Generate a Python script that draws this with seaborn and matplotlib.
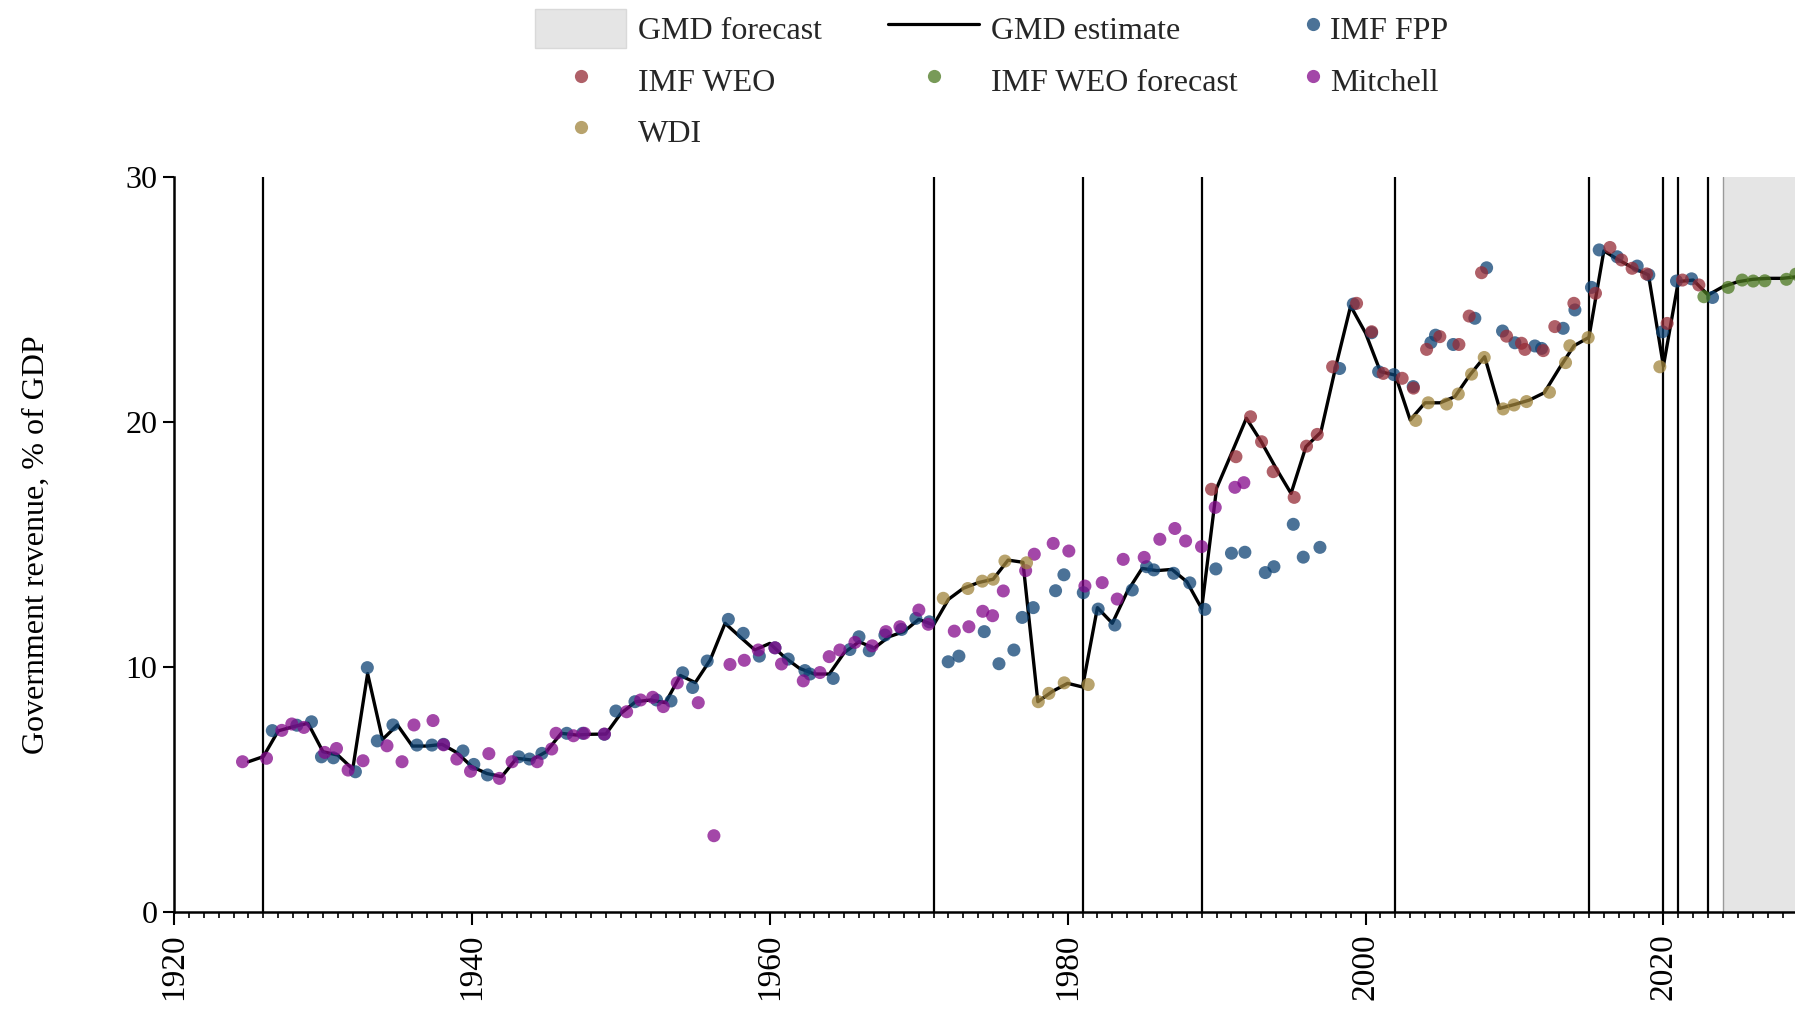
import numpy as np
import pandas as pd
import matplotlib
matplotlib.use("Agg")
import matplotlib.pyplot as plt
import seaborn as sns
from matplotlib.lines import Line2D
from matplotlib.patches import Patch
from matplotlib.ticker import MultipleLocator

# ---------------- data ----------------
gmd_years = list(range(1925, 2030))
gmd_values = [
    6.15, 6.36, 7.41, 7.58, 7.72, 6.56, 6.42, 5.85, 9.75, 7.06,   # 1925-1934
    7.65, 6.79, 6.79, 6.86, 6.52, 5.95, 5.67, 5.54, 6.29, 6.22,   # 1935-1944
    6.56, 7.31, 7.24, 7.27, 7.28, 8.12, 8.60, 8.67, 8.56, 9.67,   # 1945-1954
    9.38, 10.30, 11.80, 11.25, 10.71, 10.98, 10.41, 9.96, 9.73, 9.73,  # 1955-1964
    10.60, 11.05, 10.78, 11.25, 11.46, 11.96, 11.73, 12.78, 13.23, 13.46,  # 1965-1974
    13.60, 14.38, 14.29, 8.60, 9.03, 9.35, 9.20, 12.44, 11.80, 13.09,  # 1975-1984
    14.04, 13.95, 14.00, 13.50, 12.40, 17.31, 18.73, 20.17, 19.21, 18.12,  # 1985-1994
    17.10, 19.01, 19.60, 22.27, 24.75, 23.65, 22.07, 21.93, 20.10, 20.80,  # 1995-2004
    20.80, 21.05, 21.93, 22.68, 20.57, 20.73, 20.91, 21.21, 22.20, 23.13,  # 2005-2014
    23.47, 27.00, 26.63, 26.29, 26.02, 22.30, 25.75, 25.81, 25.20, 25.54,  # 2015-2024
    25.74, 25.84, 25.88, 25.88, 25.95,                               # 2025-2029
]

fpp_years = [1926.6, 1928.25, 1929.23, 1929.9, 1930.7, 1932.18, 1932.98, 1933.65, 1934.7, 1936.31,
             1937.32, 1938.1, 1939.4, 1940.13, 1941.05, 1943.15, 1943.87, 1944.7, 1946.37, 1947.44,
             1948.89, 1949.67, 1950.95, 1952.4, 1953.37, 1954.15, 1954.82, 1955.8, 1957.22, 1958.22,
             1959.3, 1960.35, 1961.24, 1962.36, 1962.7, 1964.26, 1965.38, 1965.99, 1966.68, 1967.73,
             1968.85, 1969.81, 1970.71, 1971.98, 1972.7, 1974.4, 1975.39, 1976.39, 1976.95, 1977.69,
             1979.19, 1979.75, 1981.05, 1982.05, 1983.17, 1984.34, 1985.3, 1985.78, 1987.12, 1988.2,
             1989.21, 1989.95, 1991.0, 1991.9, 1993.27, 1993.85, 1995.15, 1995.82, 1996.94, 1998.26,
             1999.18, 2000.41, 2000.88, 2001.9, 2003.2, 2004.39, 2004.7, 2005.89, 2007.34, 2008.13,
             2009.2, 2010.03, 2011.37, 2011.82, 2013.27, 2014.06, 2015.17, 2015.69, 2016.9, 2018.24,
             2019.02, 2019.94, 2020.88, 2021.89, 2023.3]
fpp_values = [7.42, 7.64, 7.78, 6.35, 6.31, 5.74, 9.99, 7.00, 7.65, 6.83,
              6.83, 6.86, 6.59, 6.04, 5.61, 6.35, 6.26, 6.49, 7.31, 7.31,
              7.27, 8.22, 8.60, 8.67, 8.63, 9.78, 9.18, 10.26, 11.96, 11.39,
              10.46, 10.80, 10.34, 9.87, 9.73, 9.55, 10.73, 11.25, 10.68, 11.32,
              11.55, 12.00, 11.86, 10.23, 10.46, 11.46, 10.15, 10.71, 12.04, 12.44,
              13.13, 13.78, 13.05, 12.38, 11.73, 13.16, 14.11, 13.98, 13.84, 13.45,
              12.37, 14.02, 14.66, 14.70, 13.87, 14.11, 15.84, 14.50, 14.90, 22.20,
              24.83, 23.66, 22.07, 21.95, 21.46, 23.26, 23.56, 23.18, 24.25, 26.31,
              23.73, 23.25, 23.12, 23.02, 23.84, 24.59, 25.51, 27.04, 26.76, 26.38,
              26.02, 23.70, 25.77, 25.86, 25.10]

weo_years = [1989.66, 1991.3, 1992.28, 1993.02, 1993.8, 1995.21, 1996.04, 1996.76, 1997.79, 1999.4,
             2000.41, 2001.19, 2002.46, 2003.22, 2004.1, 2004.99, 2006.27, 2006.96, 2007.79, 2009.47,
             2010.47, 2010.7, 2011.93, 2012.71, 2013.99, 2015.44, 2016.41, 2017.19, 2017.9, 2018.87,
             2020.25, 2021.28, 2022.38]
weo_values = [17.27, 18.60, 20.23, 19.21, 17.99, 16.94, 19.03, 19.51, 22.27, 24.86,
              23.70, 22.00, 21.80, 21.40, 22.98, 23.50, 23.18, 24.34, 26.11, 23.52,
              23.23, 22.98, 22.93, 23.91, 24.86, 25.27, 27.14, 26.63, 26.29, 26.06,
              24.04, 25.81, 25.61]

weo_fc_years = [2022.72, 2024.35, 2025.29, 2026.03, 2026.81, 2028.26, 2028.9]
weo_fc_values = [25.13, 25.51, 25.81, 25.77, 25.78, 25.84, 26.05]

mitchell_years = [1924.6, 1926.21, 1927.24, 1927.91, 1928.72, 1930.12, 1930.91, 1931.69, 1932.69, 1934.3,
                  1935.31, 1936.11, 1937.39, 1938.1, 1938.99, 1939.91, 1941.14, 1941.85, 1942.7, 1944.38,
                  1945.36, 1945.65, 1946.82, 1947.55, 1948.9, 1950.39, 1951.33, 1952.14, 1952.85, 1953.79,
                  1955.2, 1956.25, 1957.33, 1958.29, 1959.23, 1960.35, 1960.79, 1962.25, 1963.37, 1963.99,
                  1964.71, 1965.72, 1966.88, 1967.8, 1968.74, 1970.01, 1970.64, 1972.39, 1973.37, 1974.3,
                  1974.96, 1975.68, 1977.18, 1977.76, 1979.03, 1980.08, 1981.16, 1982.32, 1983.33, 1983.73,
                  1985.14, 1986.19, 1987.2, 1987.92, 1988.99, 1989.91, 1991.23, 1991.83]
mitchell_values = [6.15, 6.29, 7.43, 7.69, 7.55, 6.53, 6.69, 5.81, 6.19, 6.80,
                   6.15, 7.65, 7.83, 6.84, 6.26, 5.76, 6.48, 5.47, 6.15, 6.15,
                   6.67, 7.31, 7.21, 7.31, 7.28, 8.19, 8.67, 8.78, 8.40, 9.37,
                   8.56, 3.13, 10.12, 10.29, 10.71, 10.80, 10.14, 9.45, 9.79, 10.44,
                   10.71, 11.02, 10.88, 11.46, 11.66, 12.34, 11.76, 11.48, 11.66, 12.29,
                   12.11, 13.12, 13.95, 14.62, 15.06, 14.75, 13.32, 13.46, 12.79, 14.41,
                   14.49, 15.23, 15.67, 15.16, 14.93, 16.53, 17.35, 17.54]

wdi_years = [1971.65, 1973.3, 1974.27, 1975.0, 1975.79, 1977.24, 1978.03, 1978.74, 1979.77, 1981.38,
             2003.37, 2004.21, 2005.44, 2006.23, 2007.12, 2007.97, 2009.24, 2009.97, 2010.81, 2012.35,
             2013.43, 2013.72, 2014.95, 2019.76]
wdi_values = [12.82, 13.22, 13.52, 13.60, 14.34, 14.27, 8.60, 8.94, 9.37, 9.30,
              20.08, 20.80, 20.75, 21.16, 21.97, 22.65, 20.55, 20.71, 20.85, 21.23,
              22.44, 23.13, 23.46, 22.27]

break_years = [1926, 1971, 1981, 1989, 2002, 2015, 2020, 2021, 2023]
forecast_start = 2024
x_ticks = [1920, 1940, 1960, 1980, 2000, 2020]
y_ticks = [0, 10, 20, 30]

palette = {
    "IMF FPP": "#0e4374",
    "IMF WEO": "#952b36",
    "IMF WEO forecast": "#4b7820",
    "Mitchell": "#84098b",
    "WDI": "#a0843c",
}
ALPHA = 0.75

# ---------------- figure ----------------
sns.set_theme(style="ticks")
plt.rcParams["font.family"] = ["Liberation Serif", "DejaVu Serif"]

W, H = 1795, 1014
fig = plt.figure(figsize=(W / 100, H / 100), dpi=100)
x_left, x_right = 174, 1795
y_top, y_bot = 177.4, 912.4
ax = fig.add_axes([x_left / W, (H - y_bot) / H, (x_right - x_left) / W, (y_bot - y_top) / H])

px_per_year = 14.894
ax.set_xlim(1920, 1920 + (x_right - x_left) / px_per_year)
ax.set_ylim(0, 30)

# forecast shading
ax.axvspan(forecast_start, 2035, facecolor="#e5e5e5", edgecolor="none", zorder=0)
ax.axvline(forecast_start, color="#9a9a9a", lw=1.0, zorder=0.5)

# structural break lines
for yr in break_years:
    ax.axvline(yr, color="black", lw=1.6, zorder=1)

# GMD estimate line
sns.lineplot(x=gmd_years, y=gmd_values, ax=ax, color="black", linewidth=2.4,
             sort=False, zorder=2, legend=False)

# scatter sources
frames = []
for name, yrs, vals in [("IMF FPP", fpp_years, fpp_values),
                        ("Mitchell", mitchell_years, mitchell_values),
                        ("IMF WEO", weo_years, weo_values),
                        ("WDI", wdi_years, wdi_values),
                        ("IMF WEO forecast", weo_fc_years, weo_fc_values)]:
    frames.append(pd.DataFrame({"year": yrs, "value": vals, "source": name}))
df = pd.concat(frames, ignore_index=True)
sns.scatterplot(data=df, x="year", y="value", hue="source", palette=palette,
                s=88, alpha=ALPHA, linewidth=0, legend=False, ax=ax, zorder=3)

# axes styling
sns.despine(ax=ax)
for sp in ["left", "bottom"]:
    ax.spines[sp].set_linewidth(1.8)
    ax.spines[sp].set_color("black")
ax.set_xticks(x_ticks)
ax.set_xticklabels([str(t) for t in x_ticks])
ax.xaxis.set_minor_locator(MultipleLocator(1))
ax.set_yticks(y_ticks)
ax.set_yticklabels([str(t) for t in y_ticks])
ax.tick_params(axis="x", which="major", length=9, width=1.5, labelsize=24,
               labelrotation=90, pad=6, color="black", labelcolor="black")
ax.tick_params(axis="x", which="minor", length=4.5, width=1.2, color="black")
ax.tick_params(axis="y", which="major", length=8, width=1.5, labelsize=23,
               pad=4, color="black", labelcolor="black")
ax.set_xlabel("")
ax.set_ylabel("Government revenue, % of GDP", fontsize=23, color="black")
ax.yaxis.set_label_coords((51 - x_left) / (x_right - x_left), 0.5)

# legends (three columns)
fs = 23
fs_px = fs * 100 / 72.0
hh = (39 / fs_px - 0.245) / 0.65   # gives a 39 px tall handle box


def mk(color):
    return Line2D([0], [0], marker="o", linestyle="none", markersize=9.5,
                  markerfacecolor=color, markeredgewidth=0, alpha=ALPHA)


common = dict(loc="upper left", frameon=False, borderpad=0, borderaxespad=0,
              fontsize=fs, handleheight=hh, handletextpad=12 / fs_px,
              labelspacing=12.5 / fs_px)

col1 = [Patch(facecolor="#e5e5e5", edgecolor="#d9d9d9"), mk(palette["IMF WEO"]), mk(palette["WDI"])]
fig.legend(col1, ["GMD forecast", "IMF WEO", "WDI"],
           bbox_to_anchor=(535 / W, 1 - 9 / H), handlelength=91 / fs_px, **common)

col2 = [Line2D([0], [0], color="black", lw=2.3), mk(palette["IMF WEO forecast"])]
fig.legend(col2, ["GMD estimate", "IMF WEO forecast"],
           bbox_to_anchor=(888 / W, 1 - 9 / H), handlelength=91 / fs_px, **common)

col3 = [mk(palette["IMF FPP"]), mk(palette["Mitchell"])]
fig.legend(col3, ["IMF FPP", "Mitchell"],
           bbox_to_anchor=(1308 / W, 1 - 9 / H), handlelength=10 / fs_px, **common)

fig.savefig("out.png", dpi=100)
